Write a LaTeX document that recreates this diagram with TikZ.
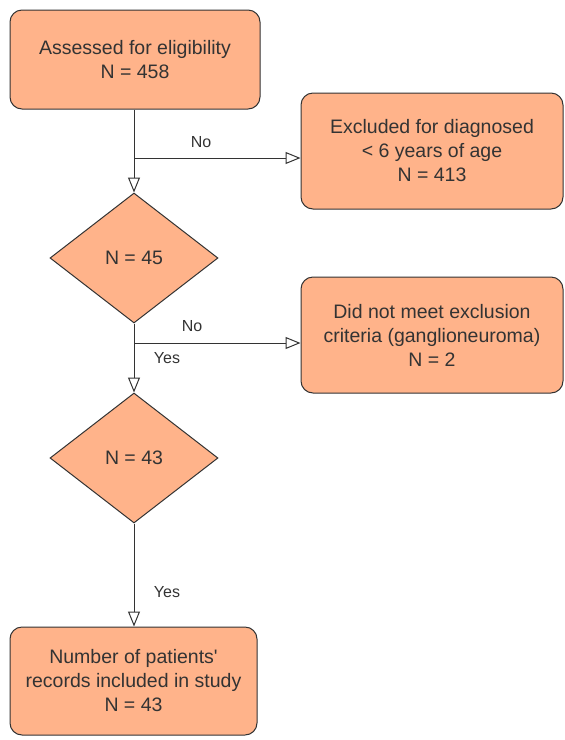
\documentclass[tikz,border=0pt]{standalone}
\usepackage{fontspec}
\setmainfont{Liberation Sans}
\usetikzlibrary{shapes.geometric,arrows.meta}
\definecolor{boxfill}{HTML}{FFB38A}
\definecolor{boxline}{HTML}{333333}

\begin{document}
\begin{tikzpicture}[
	x=1pt, y=-1pt,
	box/.style={ draw=boxline, fill=boxfill, rounded corners=12pt, line width=1pt, align=center, text=boxline, font=\fontsize{19.5}{24}\selectfont, inner sep=0pt },
	decision/.style={ diamond, draw=boxline, fill=boxfill, line width=1pt, aspect=1.29, minimum width=168pt, minimum height=130pt, inner sep=0pt, text=boxline, font=\fontsize{19.5}{24}\selectfont },
	link/.style={ draw=boxline, line width=1pt },
	flow/.style={ link, -{Triangle[open,length=15pt,width=12pt]} },
	lbl/.style={ text=boxline, font=\fontsize{16}{18}\selectfont }
]
\useasboundingbox (0,0) rectangle (565,740);

\node[box, minimum width=250pt, minimum height=99pt] at (135,59.5) (assess) {Assessed for eligibility\\N = 458};
\node[box, minimum width=262pt, minimum height=116pt] at (432,151) (excl) {Excluded for diagnosed\\< 6 years of age\\N = 413};
\node[decision] at (134,258) (dec1) {N = 45};
\node[box, minimum width=262pt, minimum height=116pt] at (432,335) (noexcl) {Did not meet exclusion\\criteria (ganglioneuroma)\\N = 2};
\node[decision] at (134,458) (dec2) {N = 43};
\node[box, minimum width=247pt, minimum height=108pt] at (133.5,681) (records) {Number of patients\textquotesingle\\records included in study\\N = 43};

\coordinate (split1) at (134,158);
\coordinate (split2) at (134,343);

\draw[link] (assess.south -| split1) -- (split1);
\draw[flow] (split1) -- (dec1.north);
\draw[flow] (split1) -- (split1 -| excl.west);
\draw[link] (dec1.south) -- (split2);
\draw[flow] (split2) -- (dec2.north);
\draw[flow] (split2) -- (split2 -| noexcl.west);
\draw[flow] (dec2.south) -- (records.north -| dec2.south);

\node[lbl] at (201,142) (no1) {No};
\node[lbl] at (192,326) (no2) {No};
\node[lbl] at (167,358) (yes1) {Yes};
\node[lbl] at (167,592) (yes2) {Yes};

\end{tikzpicture}
\end{document}
